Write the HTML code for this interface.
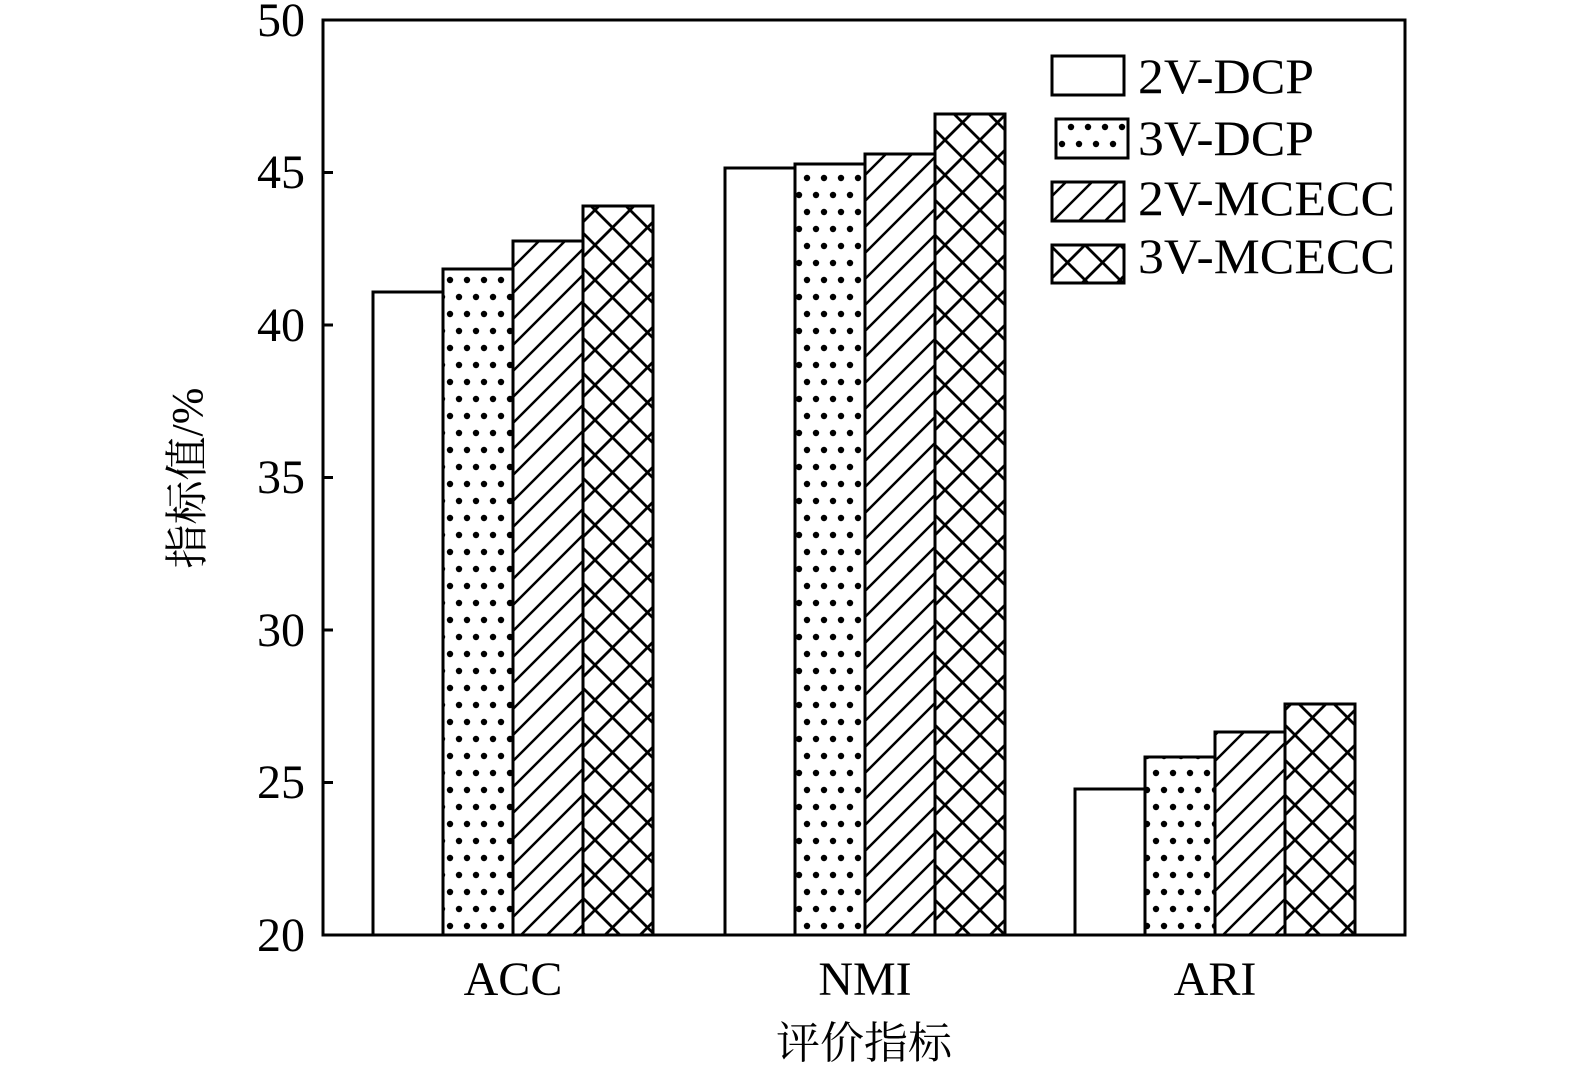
<!DOCTYPE html>
<html><head><meta charset="utf-8"><style>body{margin:0;background:#fff}</style></head><body>
<svg width="1575" height="1069" xmlns="http://www.w3.org/2000/svg" font-family="'Liberation Serif','Noto Serif CJK SC',serif">
<defs>
<pattern id="dots" width="34" height="34" patternUnits="userSpaceOnUse">
<circle cx="8" cy="8" r="3.2" fill="#000"/><circle cx="25" cy="8" r="3.2" fill="#000"/>
<circle cx="0" cy="25" r="3.2" fill="#000"/><circle cx="17" cy="25" r="3.2" fill="#000"/><circle cx="34" cy="25" r="3.2" fill="#000"/>
</pattern>
<pattern id="diag" width="26" height="26" patternUnits="userSpaceOnUse">
<path d="M-2,28 L28,-2 M-15,15 L15,-15 M11,41 L41,11" stroke="#000" stroke-width="2.5"/>
</pattern>
<pattern id="cross" width="35" height="35" patternUnits="userSpaceOnUse">
<path d="M0,0 L35,35 M35,0 L0,35" stroke="#000" stroke-width="2.8"/>
</pattern>
</defs>
<g stroke="#000" stroke-width="3">
<rect x="373" y="292" width="70" height="643" fill="#fff"/>
<rect x="443" y="269" width="70" height="666" fill="url(#dots)"/>
<rect x="513" y="241" width="70" height="694" fill="url(#diag)"/>
<rect x="583" y="206" width="70" height="729" fill="url(#cross)"/>
<rect x="725" y="168" width="70" height="767" fill="#fff"/>
<rect x="795" y="164" width="70" height="771" fill="url(#dots)"/>
<rect x="865" y="154" width="70" height="781" fill="url(#diag)"/>
<rect x="935" y="114" width="70" height="821" fill="url(#cross)"/>
<rect x="1075" y="789" width="70" height="146" fill="#fff"/>
<rect x="1145" y="757" width="70" height="178" fill="url(#dots)"/>
<rect x="1215" y="732" width="70" height="203" fill="url(#diag)"/>
<rect x="1285" y="704" width="70" height="231" fill="url(#cross)"/>
<rect x="1052" y="56" width="72" height="39" fill="#fff"/>
<rect x="1056" y="119" width="72" height="39" fill="url(#dots)"/>
<rect x="1052" y="182" width="72" height="39" fill="url(#diag)"/>
<rect x="1052" y="245" width="72" height="38" fill="url(#cross)"/>
<rect x="323" y="20" width="1082" height="915" fill="none"/>
<path d="M323,172.5 h10 M323,325 h10 M323,477.5 h10 M323,630 h10 M323,782.5 h10" fill="none"/>
</g>
<g font-size="48" text-anchor="end">
<text x="305" y="951">20</text><text x="305" y="798">25</text><text x="305" y="646">30</text>
<text x="305" y="493">35</text><text x="305" y="341">40</text><text x="305" y="188">45</text><text x="305" y="36">50</text>
</g>
<g font-size="50">
<text x="1138" y="93" textLength="176" lengthAdjust="spacingAndGlyphs">2V-DCP</text>
<text x="1138" y="155" textLength="176" lengthAdjust="spacingAndGlyphs">3V-DCP</text>
<text x="1138" y="215" textLength="257" lengthAdjust="spacingAndGlyphs">2V-MCECC</text>
<text x="1138" y="273" textLength="257" lengthAdjust="spacingAndGlyphs">3V-MCECC</text>
</g>
<g font-size="48" text-anchor="middle">
<text x="513" y="995">ACC</text><text x="865" y="995">NMI</text><text x="1215" y="995">ARI</text>
</g>
<text x="864" y="1058" font-size="44" text-anchor="middle">评价指标</text>
<text transform="translate(202,478) rotate(-90)" font-size="44" text-anchor="middle">指标值/%</text>
</svg>
</body></html>
